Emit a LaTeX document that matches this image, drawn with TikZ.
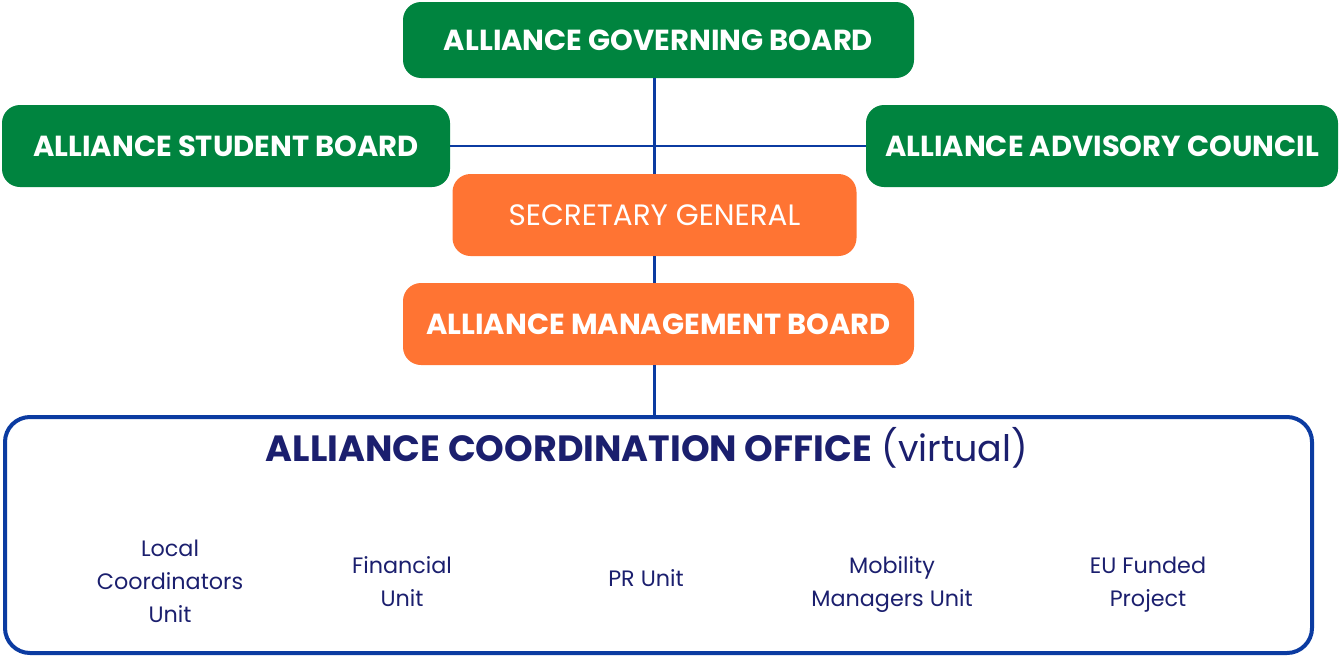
\documentclass[tikz,border=0pt]{standalone}
\usepackage{fontspec}
\setmainfont{Poppins}
\definecolor{boardgreen}{HTML}{00843F}
\definecolor{sgorange}{HTML}{FF7433}
\definecolor{linkblue}{HTML}{0B3BA1}
\definecolor{officenavy}{HTML}{1B1F6E}
\tikzset{
  greenbox/.style={rectangle, rounded corners=18pt, fill=boardgreen, text=white, font=\bfseries\fontsize{29}{34}\selectfont, inner sep=0pt},
  orangebox/.style={rectangle, rounded corners=18pt, fill=sgorange, text=white, font=\fontsize{29.5}{34}\selectfont, inner sep=0pt},
  unitlabel/.style={text=officenavy, align=center, font=\fontsize{22.3}{33}\selectfont},
  link/.style={draw=linkblue, line width=2.5pt}
}
\begin{document}
\begin{tikzpicture}[x=1pt, y=-1pt]
\useasboundingbox (0,0) rectangle (1340,656);

\node [greenbox, minimum width=511pt, minimum height=76pt] (gov) at (658.5,40) {ALLIANCE GOVERNING BOARD};
\node [greenbox, minimum width=448pt, minimum height=82pt] (stu) at (226,146) {ALLIANCE STUDENT BOARD};
\node [greenbox, minimum width=472pt, minimum height=82pt] (adv) at (1102,146) {ALLIANCE ADVISORY COUNCIL};
\node [orangebox, minimum width=404pt, minimum height=82pt] (sec) at (654.5,215) {SECRETARY GENERAL};
\node [orangebox, minimum width=511pt, minimum height=82pt, font=\bfseries\fontsize{29}{34}\selectfont] (mgmt) at (658.5,324) {ALLIANCE MANAGEMENT BOARD};
\node [rectangle, rounded corners=25pt, draw=linkblue, line width=4pt, minimum width=1307pt, minimum height=236pt] (office) at (658.5,535) {};

\node [text=officenavy, font=\fontsize{36.5}{42}\selectfont] (title) at (647,448) {\textbf{ALLIANCE COORDINATION OFFICE} (virtual)};

\node [unitlabel] (local) at (170,581) {Local\\Coordinators\\Unit};
\node [unitlabel] (fin) at (402,581.5) {Financial\\Unit};
\node [unitlabel] (pr) at (646,578) {PR Unit};
\node [unitlabel] (mob) at (892,584.5) {Mobility\\Managers Unit};
\node [unitlabel] (eu) at (1148,584.5) {EU Funded\\Project};

\draw [link] (sec.north |- gov.south) -- (sec.north);
\draw [link] (stu.east) -- (adv.west);
\draw [link] (sec.south) -- (sec.south |- mgmt.north);
\draw [link] (sec.south |- mgmt.south) -- (sec.south |- office.north);
\end{tikzpicture}
\end{document}
